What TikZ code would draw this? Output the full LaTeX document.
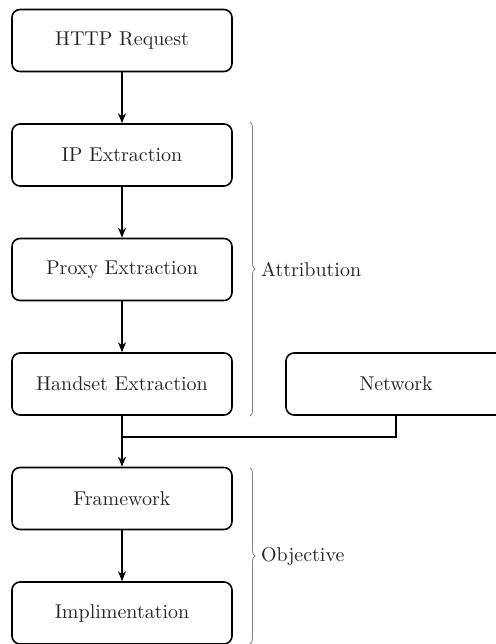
\documentclass[tikz,border=0pt]{standalone}
\usetikzlibrary{arrows.meta, decorations.pathreplacing}

\tikzset{
  stage/.style={draw, thick, rounded corners=4pt, minimum width=110pt,
                minimum height=31pt, align=center, text=black!85},
  flow/.style={-{Stealth[length=5pt,width=4pt]}, semithick},
  group/.style={draw=black!50, decorate, decoration={brace, amplitude=2.5pt}}
}

\begin{document}
\begin{tikzpicture}[x=0.5pt, y=-0.5pt]
  \useasboundingbox (0,0) rectangle (496,644);
  % Pipeline stages
  \node[stage] (http)    at (122,40.5)  {HTTP Request};
  \node[stage] (ip)      at (122,155)   {IP Extraction};
  \node[stage] (proxy)   at (122,269.5) {Proxy Extraction};
  \node[stage] (handset) at (122,384)   {Handset Extraction};
  \node[stage] (network) at (396,384)   {Network};
  \node[stage] (frame)   at (122,498.5) {Framework};
  \node[stage] (impl)    at (122,613)   {Implimentation};
  \coordinate (join) at (122,437);
  % Connectors
  \draw[flow] (http) -- (ip);
  \draw[flow] (ip) -- (proxy);
  \draw[flow] (proxy) -- (handset);
  \draw[flow] (handset) -- (frame);
  \draw[semithick] (network.south) |- (join);
  \draw[flow] (frame) -- (impl);
  % Braces
  \draw[group] (250,122) -- (250,416)
    node[midway, right=2pt, text=black!85] {Attribution};
  \draw[group] (250,468) -- (250,644)
    node[midway, right=2pt, text=black!85] {Objective};
\end{tikzpicture}
\end{document}
